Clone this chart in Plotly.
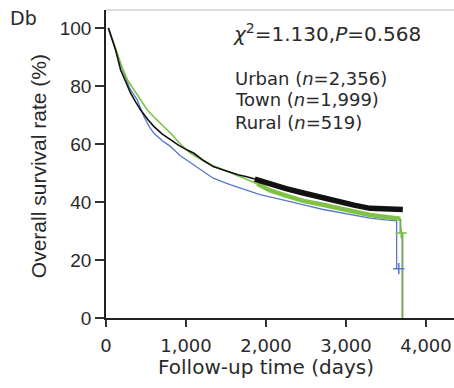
import plotly.graph_objects as go

# ---- data ----
urban_t = [30, 120, 183, 250, 308, 370, 433, 520, 600, 700, 808, 910, 1016, 1100, 1220, 1340, 1450, 1550, 1650, 1760, 1860]
urban_s = [100, 92.4, 85.5, 81, 77.5, 74.5, 71.7, 68.5, 66, 63.5, 61.4, 59.5, 57.9, 56.8, 54.3, 52.2, 51.2, 50.3, 49.4, 48.7, 47.9]
urban_late_t = [1860, 1925, 2050, 2250, 2466, 2680, 2883, 3100, 3300, 3480, 3654, 3710]
urban_late_s = [47.9, 47.3, 46.2, 44.6, 43.1, 41.6, 40.2, 38.9, 37.8, 37.6, 37.5, 37.4]

town_t = [30, 120, 200, 270, 350, 430, 516, 600, 683, 808, 930, 1058, 1200, 1350, 1550, 1750, 1890]
town_s = [100, 93, 86.5, 82, 78.6, 75, 71.7, 69.3, 67.1, 63.7, 60, 56.8, 54.5, 52.3, 50.2, 47.8, 46.3]
town_late_t = [1890, 2050, 2250, 2466, 2680, 2883, 3100, 3300, 3500, 3633, 3680]
town_late_s = [46.3, 44, 42.2, 40.4, 39.2, 38, 36.6, 35.5, 34.8, 34.3, 34.2]
town_end_t = [3680, 3680, 3705, 3705]
town_end_s = [34.2, 29.3, 29.3, 0]

rural_t = [30, 120, 200, 300, 391, 430, 475, 540, 600, 700, 808, 925, 1100, 1340, 1550, 1760, 1925, 2090, 2300, 2500, 2700, 2900, 3100, 3300, 3500, 3633, 3633, 3660]
rural_s = [100, 92.5, 86, 79, 75.2, 72.5, 69.4, 66, 63.7, 61.2, 59.1, 56, 52.8, 48.2, 46, 44.1, 42.5, 41.5, 40, 38.8, 37.5, 36.5, 35.5, 34.4, 33.8, 33.5, 17, 17]

cens_rural_t = [3660]
cens_rural_s = [17]
cens_town_t = [3690]
cens_town_s = [29.3]

x_ticks = [0, 1000, 2000, 3000, 4000]
y_ticks = [0, 20, 40, 60, 80, 100]

BLACK = "#111111"
GREEN = "#7fc245"
BLUE = "#5877cc"

fig = go.Figure()
fig.add_trace(go.Scatter(x=rural_t, y=rural_s, mode="lines", line=dict(color=BLUE, width=1.3), showlegend=False))
fig.add_trace(go.Scatter(x=town_t, y=town_s, mode="lines", line=dict(color=GREEN, width=1.6), showlegend=False))
fig.add_trace(go.Scatter(x=urban_t, y=urban_s, mode="lines", line=dict(color=BLACK, width=1.6), showlegend=False))
fig.add_trace(go.Scatter(x=town_late_t, y=town_late_s, mode="lines", line=dict(color=GREEN, width=4.5), showlegend=False))
fig.add_trace(go.Scatter(x=town_end_t, y=town_end_s, mode="lines", line=dict(color="#78a85a", width=2), showlegend=False))
fig.add_trace(go.Scatter(x=urban_late_t, y=urban_late_s, mode="lines", line=dict(color=BLACK, width=5.5), showlegend=False))
fig.add_trace(go.Scatter(x=cens_rural_t, y=cens_rural_s, mode="markers",
                         marker=dict(symbol="cross-thin", size=8, line=dict(color=BLUE, width=1.5)), showlegend=False))
fig.add_trace(go.Scatter(x=cens_town_t, y=cens_town_s, mode="markers",
                         marker=dict(symbol="cross-thin", size=8, line=dict(color=GREEN, width=1.5)), showlegend=False))

TXT = "#2a2a2a"
fig.update_layout(
    width=454, height=388,
    margin=dict(l=106, r=0, t=10, b=70),
    paper_bgcolor="white", plot_bgcolor="white",
    xaxis=dict(range=[0, 4350], tickvals=x_ticks, tickformat=",d", ticks="outside", ticklen=7,
               tickwidth=1.5, tickcolor="#333", showline=True, linecolor="#222", linewidth=1.5,
               showgrid=False, zeroline=False, ticklabelstandoff=4,
               tickfont=dict(family="DejaVu Sans", size=18, color=TXT)),
    yaxis=dict(range=[0, 106.2], tickvals=y_ticks, ticks="outside", ticklen=9,
               tickwidth=1.5, tickcolor="#333", showline=True, linecolor="#222", linewidth=1.5,
               showgrid=False, zeroline=False,
               tickfont=dict(family="Liberation Sans", size=19, color=TXT)),
    shapes=[dict(type="line", xref="paper", yref="paper", x0=0, x1=1, y0=1, y1=1,
                 line=dict(color="#bbbbbb", width=1))],
)

def ann(text, x, y, size, xanchor="left", family="DejaVu Sans", angle=0):
    fig.add_annotation(text=text, x=x, y=y, xref="paper", yref="paper", xanchor=xanchor,
                       yanchor="middle", showarrow=False, textangle=angle,
                       font=dict(family=family, size=size, color=TXT))

ann("Follow-up time (days)", 0.46, -0.159, 20, xanchor="center")
ann("Overall survival rate (%)", -0.195, 0.4935, 21, xanchor="center", family="Liberation Sans", angle=-90)
ann("Db", -0.236, 0.974, 19, xanchor="center")
ann("<i>χ</i><sup>2</sup>=1.130,<i>P</i>=0.568", 0.359, 0.925, 20)
ann("Urban (<i>n</i>=2,356)", 0.365, 0.776, 18)
ann("Town (<i>n</i>=1,999)", 0.365, 0.708, 18)
ann("Rural (<i>n</i>=519)", 0.365, 0.636, 18)

fig.write_html("out.html")
